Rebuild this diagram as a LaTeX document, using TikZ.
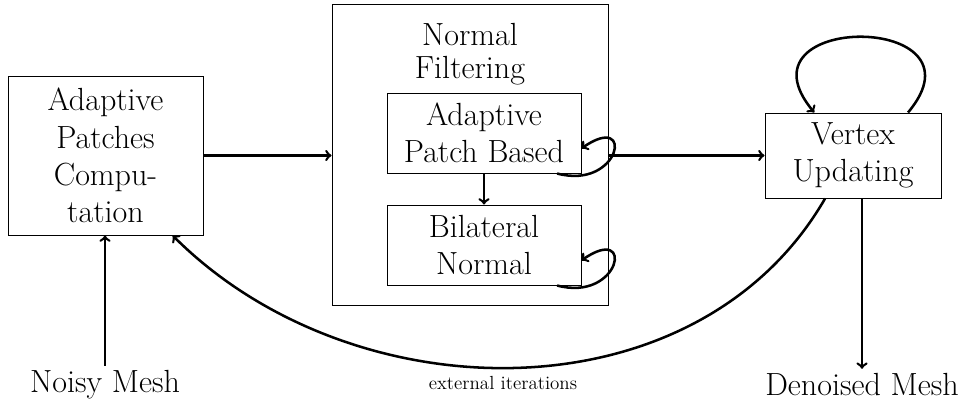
\documentclass[tikz,border=0pt]{standalone}
\usetikzlibrary{positioning}
\begin{document}
\begin{tikzpicture}[
        every node/.style={font=\fontsize{22.8}{26.5}\selectfont},
        box/.style={draw, line width=0.7pt, align=center, inner sep=0pt},
        flow/.style={->, line width=1.8pt},
    ]
    \useasboundingbox (0,0) rectangle (24.2,10.075);
    \node[box, minimum width=4.875cm, minimum height=3.975cm] (apc) at (2.6375,6.1875) {Adaptive\\Patches\\Compu-\\tation};
    \node[box, minimum width=6.9cm, minimum height=7.525cm] (nf) at (11.75,6.2125) {};
    \node[align=center, font=\fontsize{22.8}{23.5}\selectfont] (nft) at (11.75,8.725) {Normal\\Filtering};
    \node[box, minimum width=4.85cm, minimum height=2cm] (pb) at (12.1,6.75) {Adaptive\\Patch Based};
    \node[box, minimum width=4.85cm, minimum height=2cm] (bn) at (12.1,3.95) {Bilateral\\Normal};
    \node[box, minimum width=4.4cm, minimum height=2.125cm] (vu) at (21.325,6.1875) {Vertex\\Updating};
    \node (nm) at (2.625,0.45) {Noisy Mesh};
    \node (dm) at (21.55,0.45) {Denoised Mesh};
    \node[font=\fontsize{13.5}{15}\selectfont] (ei) at (12.575,0.5) {external iterations};

    \draw[flow] (apc) -- (apc -| nf.west);
    \draw[flow] (nf.east |- vu) -- (vu);
    \draw[flow] (pb) -- (bn);
    \draw[flow] (nm) -- (nm |- apc.south);
    \draw[flow] (vu.south -| dm) -- (dm);
    \draw[flow] (pb.-29) to[out=-15, in=35, looseness=4.8] (pb.-9);
    \draw[flow] (bn.-29) to[out=-15, in=35, looseness=4.8] (bn.-9);
    \draw[flow] (vu.38) to[out=50, in=130, looseness=3.6] (vu.132);
    \draw[flow] (vu.237) to[out=-120, in=-45] (apc.-50);
\end{tikzpicture}
\end{document}
